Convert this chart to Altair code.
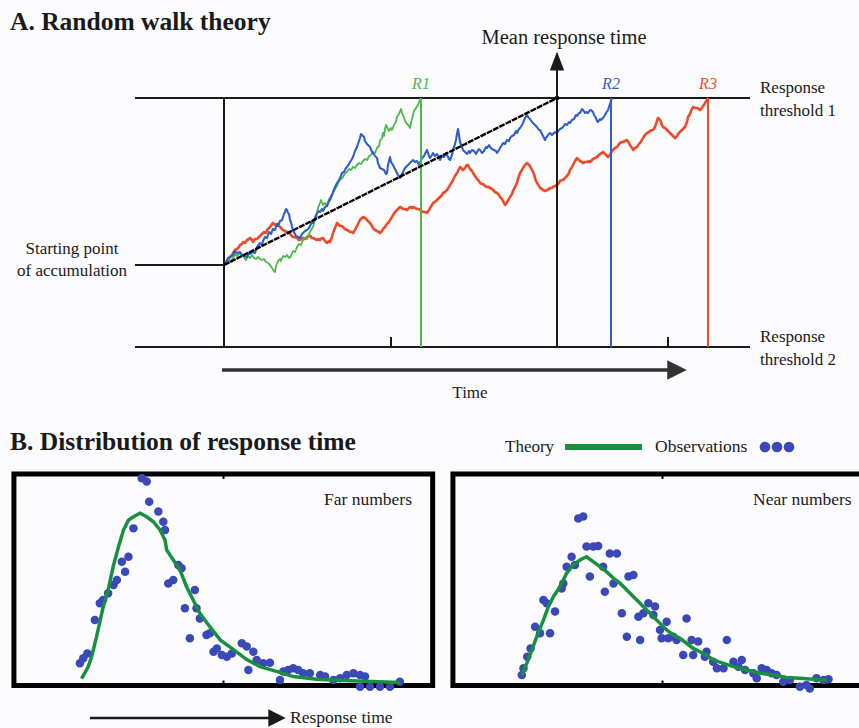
import altair as alt
import pandas as pd

# ---------------- Part A: random walk theory ----------------
# time (arbitrary units) , accumulated evidence (arbitrary units)
THRESH_1 = 167
THRESH_2 = -82
MEAN_RT = 333
R_LABELS = ["R1", "R2", "R3"]
R_TIMES = [197, 387, 484]
R_COLORS = ["#4cb847", "#2f5fc6", "#ee4b2b"]
TICK_TIMES = [167, 444]

green_walk = [(0,0),(2,2),(4,6),(6,3),(9,7),(11,11),(13,9),(16,12),(18,9),(20,8),(22,5),(24,9),(26,7),(28,10),(30,7),(32,6),(34,8),(36,6),(38,5),(40,6),(42,3),(44,2),(46,0),(48,-3),(50,-6),(51,-7),(52,-1),(54,4),(56,6),(57,4),(59,9),(61,8),(63,10),(65,7),(67,9),(69,14),(71,13),(73,18),(75,21),(77,20),(79,25),(81,27),(83,26),(85,31),(87,35),(89,38),(90,42),(92,47),(93,52),(94,57),(96,62),(97,65),(99,60),(101,62),(103,59),(105,66),(107,69),(109,72),(111,76),(113,79),(115,84),(117,86),(119,88),(121,92),(123,93),(125,96),(127,95),(129,98),(131,97),(133,100),(135,102),(137,101),(139,104),(141,106),(143,105),(145,109),(147,110),(149,113),(151,112),(153,117),(155,119),(156,124),(158,127),(159,132),(160,129),(161,136),(162,140),(163,138),(165,134),(167,137),(168,135),(170,140),(172,143),(173,148),(175,151),(177,156),(178,152),(180,147),(181,144),(183,141),(185,139),(186,137),(187,142),(189,150),(190,154),(192,157),(194,160),(195,163),(197,167)]

blue_walk = [(0,0),(2,2),(4,7),(6,8),(9,10),(11,14),(13,12),(16,13),(18,10),(20,9),(23,8),(25,12),(26,11),(29,13),(31,12),(33,18),(36,22),(38,20),(39,24),(41,28),(43,27),(45,33),(47,31),(49,36),(51,35),(53,41),(54,39),(56,44),(58,45),(60,51),(61,53),(62,56),(63,55),(64,52),(65,51),(66,45),(67,43),(68,38),(69,35),(71,31),(72,29),(74,28),(76,27),(78,31),(79,32),(81,34),(83,35),(85,37),(86,39),(88,43),(89,42),(91,47),(93,52),(95,54),(96,53),(98,56),(99,54),(101,58),(103,59),(105,64),(106,65),(108,70),(109,73),(111,78),(113,82),(115,85),(116,87),(118,92),(120,93),(122,97),(123,98),(125,101),(126,103),(128,106),(129,108),(131,114),(133,118),(135,124),(136,127),(137,131),(138,130),(140,128),(141,124),(143,121),(145,119),(146,118),(148,113),(149,112),(151,109),(153,107),(154,102),(156,97),(158,96),(160,95),(162,91),(163,92),(164,100),(166,108),(167,103),(169,100),(171,96),(172,94),(174,90),(176,87),(178,91),(179,93),(181,97),(183,99),(185,101),(186,102),(188,104),(189,105),(191,103),(193,104),(195,100),(196,102),(198,107),(200,109),(202,113),(203,115),(205,109),(206,107),(208,110),(209,112),(211,109),(213,111),(215,108),(216,105),(218,109),(220,108),(222,112),(223,110),(225,106),(226,105),(228,110),(229,115),(231,121),(232,125),(233,131),(234,136),(235,130),(236,123),(238,118),(239,115),(241,113),(243,111),(245,114),(246,112),(248,115),(250,114),(252,111),(253,113),(255,116),(256,115),(258,112),(260,114),(262,118),(263,117),(265,120),(266,118),(268,116),(270,115),(272,114),(273,112),(275,115),(276,117),(278,120),(279,122),(281,121),(283,125),(285,124),(286,127),(288,129),(290,130),(292,134),(293,132),(295,136),(296,137),(298,140),(299,142),(301,147),(303,150),(304,148),(306,146),(308,143),(309,142),(311,140),(313,138),(315,135),(316,135),(318,131),(319,129),(321,125),(322,127),(324,130),(326,132),(328,130),(329,131),(331,133),(333,132),(335,135),(336,136),(338,137),(339,138),(341,141),(343,140),(345,143),(346,142),(348,145),(350,146),(352,150),(353,149),(355,152),(356,152),(358,156),(359,155),(361,152),(362,153),(364,152),(366,155),(367,155),(369,153),(370,150),(372,147),(373,144),(374,143),(376,146),(377,145),(379,147),(381,150),(382,152),(384,155),(385,158),(386,161),(387,164),(388,167)]

red_walk = [(0,0),(2,3),(4,5),(6,8),(8,10),(9,12),(11,15),(13,16),(15,18),(16,20),(18,21),(19,23),(21,22),(23,25),(25,26),(26,27),(28,25),(29,23),(31,26),(33,26),(35,28),(36,29),(38,31),(40,33),(42,32),(43,35),(45,37),(46,38),(48,41),(49,42),(51,40),(53,41),(55,39),(56,38),(58,36),(59,35),(61,34),(63,33),(65,32),(66,31),(68,29),(69,28),(71,28),(73,27),(75,25),(76,25),(78,27),(79,27),(81,26),(83,28),(85,29),(86,29),(88,27),(89,27),(91,26),(93,25),(95,26),(96,25),(98,27),(99,27),(101,24),(103,22),(105,24),(106,23),(108,28),(109,32),(111,37),(113,42),(115,40),(116,39),(118,39),(119,38),(121,36),(123,35),(125,34),(126,33),(128,33),(129,32),(131,35),(133,39),(135,43),(136,45),(138,47),(139,48),(141,47),(143,45),(145,43),(146,42),(148,39),(149,37),(151,35),(153,34),(155,33),(156,32),(158,34),(159,36),(161,38),(163,41),(165,43),(166,45),(168,48),(169,50),(171,53),(173,55),(175,57),(176,58),(178,57),(179,56),(181,56),(183,55),(185,57),(186,58),(188,57),(189,58),(191,57),(193,56),(195,56),(196,55),(198,54),(199,53),(201,53),(203,52),(205,55),(206,57),(208,60),(209,62),(211,63),(213,65),(215,67),(216,68),(218,70),(219,72),(221,73),(223,75),(225,78),(226,80),(228,83),(229,85),(231,89),(233,92),(235,96),(236,98),(238,96),(239,95),(241,97),(242,99),(243,100),(244,100),(245,98),(246,96),(248,94),(249,92),(251,89),(253,86),(255,84),(256,82),(258,81),(259,81),(261,79),(263,78),(265,78),(266,77),(268,76),(269,75),(271,73),(273,72),(275,70),(276,68),(278,66),(279,64),(280,62),(281,60),(282,61),(283,63),(285,66),(286,68),(288,71),(289,74),(290,76),(291,78),(293,82),(294,86),(295,89),(296,92),(298,95),(299,97),(301,100),(303,102),(305,100),(306,99),(307,97),(308,95),(310,91),(311,87),(312,84),(313,82),(315,79),(316,77),(318,76),(319,75),(321,74),(323,75),(325,76),(326,77),(328,77),(329,78),(331,79),(333,80),(335,82),(336,84),(338,85),(339,85),(341,87),(343,89),(345,92),(346,95),(348,98),(349,100),(351,104),(353,107),(355,105),(356,104),(358,103),(359,102),(361,103),(363,103),(365,104),(366,103),(368,105),(369,106),(371,107),(373,108),(375,110),(376,111),(378,112),(379,113),(381,111),(382,110),(383,109),(384,108),(386,110),(387,112),(388,114),(389,115),(391,117),(393,118),(395,121),(396,122),(398,123),(399,123),(401,124),(403,125),(405,122),(406,120),(408,117),(409,115),(411,117),(413,118),(415,121),(416,122),(418,125),(419,127),(421,130),(423,132),(425,133),(426,134),(428,135),(429,135),(431,138),(432,141),(433,144),(434,147),(436,145),(437,143),(438,140),(439,138),(441,137),(443,135),(445,133),(446,132),(448,130),(449,129),(450,128),(451,127),(453,129),(454,131),(455,132),(456,133),(458,135),(459,136),(460,137),(461,138),(463,143),(464,148),(466,151),(467,154),(468,156),(469,158),(471,157),(473,157),(475,156),(476,155),(478,157),(479,159),(480,160),(481,162),(483,165),(484,167)]

# ---------------- Part B: response-time distributions ----------------
far_theory_x = [15.8,17.4,18.2,19.4,21.0,22.2,23.4,24.7,25.9,27.1,28.3,29.9,31.5,33.1,34.7,35.9,36.3,37.9,39.5,41.1,42.7,44.3,46.7,49.2,52.4,55.6,58.8,62.8,66.8,72.4,80.5,92.5]
far_theory_y = [2.1,7.8,12.6,22.3,36.7,44.9,56.1,65.8,73.9,78.7,80.3,82.0,80.3,77.9,73.9,69.1,64.3,59.4,54.6,46.5,40.1,33.7,27.2,20.8,16.1,11.3,7.9,5.6,3.1,1.8,1.1,0.2]
far_obs_x = [15.4,16.2,17.2,19.0,20.2,21.0,22.2,23.5,24.3,25.5,26.3,27.1,28.3,30.3,31.5,32.1,34.3,35.5,35.9,36.7,37.9,39.1,39.9,40.7,41.9,43.1,43.5,44.3,45.9,46.7,47.6,48.4,49.6,50.8,52.0,54.4,55.6,57.2,56.0,58.0,59.6,61.2,63.6,64.4,65.6,66.8,68.0,69.2,70.8,73.3,74.5,76.5,78.1,79.7,81.3,82.9,84.1,82.9,85.3,87.7,90.1,92.5]
far_obs_y = [9.5,11.9,14.3,30.4,38.5,40.1,43.3,47.3,49.8,58.6,53.8,61.0,74.7,98.9,97.3,87.6,82.8,77.9,73.9,48.1,49.8,57.0,55.4,36.1,21.6,44.9,36.1,31.2,23.2,24.0,15.1,16.7,13.5,12.7,14.3,19.2,17.6,15.1,6.3,11.1,9.5,9.8,1.4,5.5,6.3,7.1,6.3,4.7,4.7,3.9,3.1,1.4,2.3,3.9,4.7,3.9,3.1,-1.8,-1.8,-1.8,-1.8,0.6]

near_theory_x = [16.1,17.3,18.5,19.7,21.3,22.5,23.7,25.3,26.9,28.5,30.1,31.7,33.3,34.9,36.5,38.2,39.8,41.4,43.0,44.6,46.2,47.8,49.4,51.0,52.6,54.2,55.8,57.4,59.0,60.6,62.2,64.7,67.1,70.3,73.5,76.7,79.9,83.1,86.3,89.6]
near_theory_y = [3.9,9.5,15.9,22.4,30.4,36.9,41.7,46.5,53.0,57.0,59.4,61.0,58.6,56.2,53.8,50.6,48.1,44.9,41.7,38.5,35.3,32.0,28.8,25.6,23.2,21.6,19.2,16.7,15.1,13.5,11.1,9.5,7.9,6.3,4.7,3.9,2.7,2.3,1.8,1.4]
near_obs_x = [16.1,16.5,17.4,18.2,19.3,20.5,21.3,22.1,22.9,24.1,25.7,26.1,26.9,28.1,28.9,29.7,30.9,31.7,33.3,34.5,32.5,35.7,36.1,37.3,39.0,38.2,40.2,41.4,41.8,43.0,44.2,44.6,45.4,46.6,48.2,47.8,49.4,49.8,51.0,51.4,52.6,53.4,55.0,55.8,57.0,57.4,58.6,60.6,60.2,62.2,63.1,64.7,65.5,67.1,68.3,69.1,69.9,71.9,72.7,73.9,75.1,76.3,77.5,79.1,80.7,83.1,84.7,85.5,87.1,88.8,90.0]
near_obs_y = [3.9,7.1,12.7,16.7,27.2,24.0,40.1,38.5,24.0,34.5,45.7,48.1,56.2,61.0,57.0,79.5,80.4,65.9,65.9,66.2,51.4,56.2,44.1,62.6,62.6,48.1,33.7,22.4,51.4,52.2,32.0,20.8,33.7,38.5,36.9,32.9,25.6,21.6,29.6,21.6,22.4,20.8,13.5,31.2,20.8,13.5,20.0,15.1,12.7,10.3,7.1,7.1,20.8,10.3,7.9,11.1,6.3,4.7,2.3,7.1,6.3,4.7,3.9,0.6,1.4,-1.8,-1.0,-2.6,2.3,1.4,1.8]

# ---------------- styling ----------------
SERIF = "Liberation Serif"
INK = "#1a1a1a"
THEORY_GREEN = "#17903f"
DOT_BLUE = "#3a48b8"

AX = alt.Scale(domain=[0, MEAN_RT], range=[224, 557], nice=False, zero=False)
AY = alt.Scale(domain=[0, THRESH_1], range=[265, 98], nice=False, zero=False)
P1X = alt.Scale(domain=[0, 100], range=[16, 431], nice=False, zero=False)
P2X = alt.Scale(domain=[0, 100], range=[455, 870], nice=False, zero=False)
PY = alt.Scale(domain=[0, 100], range=[683, 476], nice=False, zero=False)

one = pd.DataFrame({"_": [0]})


def ax(field):
    return alt.X(field, type="quantitative", scale=AX, axis=None)


def ay(field):
    return alt.Y(field, type="quantitative", scale=AY, axis=None)


def walk(pairs, color, width):
    df = pd.DataFrame(pairs, columns=["t", "e"])
    return alt.Chart(df).mark_line(color=color, strokeWidth=width, strokeJoin="round").encode(
        x=ax("t"), y=ay("e"), order="t:Q")


def label(text, x, y, size=17, align="left", weight="normal", style="normal", color=INK):
    return alt.Chart(one).mark_text(
        text=text, fontSize=size, align=align, baseline="middle", font=SERIF,
        fontWeight=weight, fontStyle=style, color=color).encode(x=alt.value(x), y=alt.value(y))


layers = []

# threshold and start lines
hlines = pd.DataFrame({"t0": [-89, -89, -89], "t1": [526, 526, 0],
                       "e": [THRESH_1, THRESH_2, 0]})
layers.append(alt.Chart(hlines).mark_rule(color=INK, strokeWidth=2).encode(
    x=ax("t0"), x2="t1", y=ay("e")))

# ticks on threshold 2
ticks = pd.DataFrame({"t": TICK_TIMES, "e0": [THRESH_2] * 2, "e1": [THRESH_2 + 10] * 2})
layers.append(alt.Chart(ticks).mark_rule(color=INK, strokeWidth=2).encode(
    x=ax("t"), y=ay("e0"), y2="e1"))

# walks
layers.append(walk(red_walk, "#ee4b2b", 2.6))
layers.append(walk(green_walk, "#4cb847", 1.8))
layers.append(walk(blue_walk, "#2f5fc6", 2.1))

# vertical lines: start, mean, responses
vl = pd.DataFrame({"t": [0, MEAN_RT] + R_TIMES,
                   "c": [INK, INK] + R_COLORS,
                   "e0": [THRESH_2] * 5, "e1": [THRESH_1] * 5})
layers.append(alt.Chart(vl).mark_rule(strokeWidth=2).encode(
    x=ax("t"), y=ay("e0"), y2="e1", color=alt.Color("c:N", scale=None)))

# mean drift line
mean_df = pd.DataFrame({"t": [0, MEAN_RT], "e": [0, THRESH_1]})
layers.append(alt.Chart(mean_df).mark_line(color="#000000", strokeWidth=2.4,
                                           strokeDash=[6, 1]).encode(x=ax("t"), y=ay("e")))
layers.append(alt.Chart(mean_df.tail(1)).mark_circle(color="#000000", size=22, opacity=1).encode(
    x=ax("t"), y=ay("e")))

# mean response time arrow
arrow_up = pd.DataFrame({"t": [MEAN_RT], "e0": [THRESH_1], "e1": [THRESH_1 + 30], "eh": [THRESH_1 + 37]})
layers.append(alt.Chart(arrow_up).mark_rule(color=INK, strokeWidth=2).encode(
    x=ax("t"), y=ay("e0"), y2="e1"))
layers.append(alt.Chart(arrow_up).mark_point(shape="M-0.75,1L0,-1L0.75,1Z", size=361, filled=True,
                                             color=INK, opacity=1, strokeWidth=0).encode(
    x=ax("t"), y=ay("eh")))

# time arrow
time_arrow = pd.DataFrame({"t0": [-2], "t1": [446], "th": [453], "e": [THRESH_2 - 23]})
layers.append(alt.Chart(time_arrow).mark_rule(color="#333333", strokeWidth=3.5).encode(
    x=ax("t0"), x2="t1", y=ay("e")))
layers.append(alt.Chart(time_arrow).mark_point(shape="M-1,-1L1,0L-1,1Z", size=380, filled=True,
                                               color="#333333", opacity=1, strokeWidth=0).encode(
    x=ax("th"), y=ay("e")))

# R labels
rl = pd.DataFrame({"t": R_TIMES, "lab": R_LABELS, "c": R_COLORS, "e": [THRESH_1 + 14] * 3})
layers.append(alt.Chart(rl).mark_text(font=SERIF, fontSize=16, fontStyle="italic", baseline="middle").encode(
    x=ax("t"), y=ay("e"), text="lab:N", color=alt.Color("c:N", scale=None)))

# Part A text
layers += [
    label("A. Random walk theory", 10, 22, size=25.5, weight="bold"),
    label("Mean response time", 564, 38, size=20.5, align="center"),
    label("Response", 760, 88),
    label("threshold 1", 760, 111),
    label("Response", 760, 337),
    label("threshold 2", 760, 360),
    label("Starting point", 72, 249, align="center"),
    label("of accumulation", 72, 271, align="center"),
    label("Time", 470, 393, align="center"),
]

# ---------------- Part B panels ----------------
frame = pd.DataFrame({"x0": [-0.5], "x1": [100.4], "y0": [-1.2], "y1": [101.0],
                      "xm": [50], "t0": [98.6], "b1": [1.2]})


def panel(xs, th_x, th_y, ob_x, ob_y, title, title_x, title_align):
    def px(f):
        return alt.X(f, type="quantitative", scale=xs, axis=None)

    def py(f):
        return alt.Y(f, type="quantitative", scale=PY, axis=None)

    th = pd.DataFrame({"x": th_x, "y": th_y})
    ob = pd.DataFrame({"x": ob_x, "y": ob_y})
    out = [
        alt.Chart(frame).mark_rect(fillOpacity=0, stroke="#000000", strokeWidth=5).encode(
            x=px("x0"), x2="x1", y=py("y0"), y2="y1"),
        alt.Chart(frame).mark_rule(color="#000000", strokeWidth=2).encode(x=px("xm"), y=py("t0"), y2="y1"),
        alt.Chart(frame).mark_rule(color="#000000", strokeWidth=2).encode(x=px("xm"), y=py("y0"), y2="b1"),
        alt.Chart(ob).mark_circle(size=72, color=DOT_BLUE, opacity=1).encode(x=px("x"), y=py("y")),
        alt.Chart(th).mark_line(color=THEORY_GREEN, strokeWidth=3.5).encode(x=px("x"), y=py("y")),
        label(title, title_x, 500, size=17.5, align=title_align),
    ]
    return out


layers += panel(P1X, far_theory_x, far_theory_y, far_obs_x, far_obs_y, "Far numbers", 412, "right")
layers += panel(P2X, near_theory_x, near_theory_y, near_obs_x, near_obs_y, "Near numbers", 753, "left")

# Part B title and legend
layers += [
    label("B. Distribution of response time", 10, 442, size=25.5, weight="bold"),
    label("Theory", 505, 447, size=17),
    label("Observations", 655, 447, size=17.5),
    label("Response time", 290, 718, size=17.5),
]
layers.append(alt.Chart(one).mark_rule(color=THEORY_GREEN, strokeWidth=6).encode(
    x=alt.value(565), x2=alt.value(642), y=alt.value(447)))
for cx in (765, 777, 789):
    layers.append(alt.Chart(one).mark_circle(size=115, color=DOT_BLUE, opacity=1).encode(
        x=alt.value(cx), y=alt.value(447)))

# response-time arrow
layers.append(alt.Chart(one).mark_rule(color="#1a1a1a", strokeWidth=2.5).encode(
    x=alt.value(90), x2=alt.value(270), y=alt.value(718)))
layers.append(alt.Chart(one).mark_point(shape="M-1,-1L1,0L-1,1Z", size=300, filled=True,
                                        color="#1a1a1a", opacity=1, strokeWidth=0).encode(
    x=alt.value(277), y=alt.value(718)))

chart = alt.layer(*layers).resolve_scale(x="independent", y="independent").properties(
    width=859, height=728, padding=0, background="#fcfcfe",
    autosize=alt.AutoSizeParams(type="none"),
).configure_view(stroke=None)

chart.save("out.html", embed_options={"renderer": "svg", "actions": False})
